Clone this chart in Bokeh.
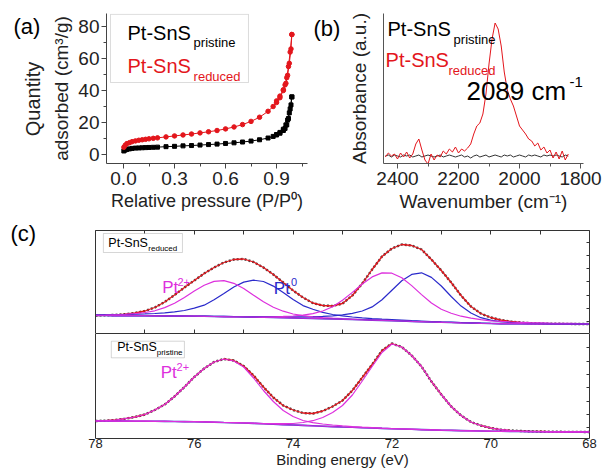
from bokeh.plotting import figure
from bokeh.layouts import column, row
from bokeh.models import Range1d, LinearAxis, FixedTicker, Label, BoxAnnotation, PrintfTickFormatter
from bokeh.embed import file_html
from bokeh.resources import INLINE

FONT = "Liberation Sans"

# ---------------- (a) N2 isotherms ----------------
p_rel_ads = [0.002, 0.01, 0.02, 0.035, 0.05, 0.07, 0.09, 0.11, 0.13, 0.15, 0.175, 0.2, 0.25, 0.3,
             0.35, 0.4, 0.45, 0.5, 0.55, 0.6, 0.65, 0.7, 0.75, 0.8, 0.85, 0.88, 0.9, 0.92, 0.94,
             0.95, 0.96, 0.97, 0.98, 0.99]
q_reduced_ads = [4.5, 5.8, 6.8, 7.4, 8.0, 8.5, 8.9, 9.2, 9.5, 9.8, 10.1, 10.4, 11.0, 11.6,
                 12.2, 12.8, 13.5, 14.2, 15.0, 16.0, 17.2, 18.7, 20.7, 23.3, 27.0, 30.0, 32.5, 35.5, 40.0,
                 43.5, 48.0, 55.0, 64.0, 75.0]
q_pristine_ads = [2.2, 2.8, 3.2, 3.5, 3.8, 4.0, 4.1, 4.2, 4.3, 4.4, 4.5, 4.6, 4.9, 5.1,
                  5.4, 5.6, 5.9, 6.2, 6.5, 6.9, 7.3, 7.8, 8.4, 9.2, 10.3, 11.3, 12.2, 13.3, 15.0,
                  16.3, 18.5, 22.5, 28.5, 36.0]
p_rel_des = [0.99, 0.985, 0.975, 0.965, 0.955, 0.94, 0.92, 0.9]
q_reduced_des = [75.0, 66.0, 57.0, 49.5, 44.5, 40.5, 36.5, 33.5]
q_pristine_des = [36.0, 31.0, 26.0, 21.5, 18.5, 15.8, 13.8, 12.5]

# ---------------- (b) CO-DRIFTS ----------------
wavenumber = [2440, 2430, 2420, 2410, 2400, 2390, 2380, 2370, 2360, 2350,
              2340, 2330, 2320, 2310, 2300, 2290, 2280, 2270, 2260, 2250,
              2240, 2230, 2220, 2210, 2200, 2190, 2180, 2170, 2160, 2150,
              2140, 2130, 2120, 2110, 2100, 2090, 2080, 2070, 2060, 2050,
              2040, 2030, 2020, 2010, 2000, 1990, 1980, 1970, 1960, 1950,
              1940, 1930, 1920, 1910, 1900, 1890, 1880, 1870, 1860, 1850, 1840]
abs_reduced = [-0.01, 0.03, 0.00, 0.02, -0.03, 0.03, -0.01, 0.04, -0.02, 0.02,
               0.12, 0.17, 0.06, -0.04, -0.08, 0.02, -0.04, 0.01, -0.01, 0.05,
               0.02, 0.07, 0.04, 0.09, 0.03, 0.07, 0.05, 0.08, 0.12, 0.22,
               0.30, 0.33, 0.42, 0.62, 0.92, 1.17, 1.33, 1.27, 1.10, 0.84,
               0.66, 0.57, 0.50, 0.40, 0.30, 0.26, 0.22, 0.17, 0.15, 0.10,
               0.13, 0.06, 0.09, 0.03, 0.06, -0.02, 0.04, -0.03, 0.05, -0.04, 0.02]
abs_pristine = [0.00, 0.01, -0.01, 0.01, 0.00, -0.01, 0.01, 0.00, 0.01, -0.01,
                0.00, 0.01, -0.01, 0.00, 0.01, 0.00, -0.01, 0.00, 0.01, -0.01,
                0.00, 0.01, 0.00, -0.01, 0.00, 0.01, -0.01, 0.00, -0.02, 0.00,
                0.01, -0.01, 0.00, 0.01, -0.01, 0.00, 0.01, 0.00, -0.01, 0.01,
                0.00, 0.01, -0.01, 0.00, 0.01, 0.00, -0.01, 0.01, 0.00, 0.01,
                0.00, -0.01, 0.01, 0.00, 0.01, 0.00, 0.01, 0.00, -0.01, 0.01, 0.00]

# ---------------- (c) Pt 4f XPS ----------------
binding_energy = [78.0, 77.8, 77.6, 77.4, 77.2, 77.0, 76.8, 76.6, 76.4, 76.2, 76.0,
                  75.8, 75.6, 75.4, 75.2, 75.0, 74.8, 74.6, 74.4, 74.2, 74.0,
                  73.8, 73.6, 73.4, 73.2, 73.0, 72.8, 72.6, 72.4, 72.2, 72.0,
                  71.8, 71.6, 71.4, 71.2, 71.0, 70.8, 70.6, 70.4, 70.2, 70.0,
                  69.8, 69.6, 69.4, 69.2, 69.0, 68.8, 68.6, 68.4, 68.2, 68.0]
# reduced sample
red_fit = [18.0, 18.2, 18.6, 19.3, 20.5, 22.5, 26.0, 31.5, 38.5, 46.0, 53.0,
           60.0, 66.0, 71.0, 74.0, 74.5, 71.5, 66.0, 59.0, 51.0, 43.0,
           36.0, 30.5, 28.0, 27.5, 30.0, 38.0, 50.0, 64.0, 77.0, 85.0,
           89.0, 88.0, 84.0, 74.0, 63.0, 51.0, 38.0, 27.0, 20.0, 16.0,
           13.5, 12.0, 11.0, 10.4, 10.0, 9.8, 9.7, 9.6, 9.5, 9.5]
red_bg = [18.0, 18.0, 17.9, 17.9, 17.9, 17.8, 17.7, 17.6, 17.5, 17.4, 17.3,
          17.2, 17.0, 16.9, 16.7, 16.6, 16.4, 16.2, 16.0, 15.8, 15.6,
          15.3, 15.1, 14.8, 14.6, 14.3, 14.0, 13.7, 13.4, 13.1, 12.8,
          12.5, 12.1, 11.8, 11.5, 11.2, 11.0, 10.7, 10.5, 10.2, 10.0,
          9.9, 9.8, 9.8, 9.7, 9.7, 9.6, 9.6, 9.6, 9.5, 9.5]
red_pt2_a = [18.5, 18.6, 18.9, 19.2, 19.9, 21.0, 22.7, 25.9, 30.3, 36.1, 42.5,
             48.3, 52.1, 52.8, 50.2, 45.0, 38.3, 31.8, 26.2, 22.3, 19.5,
             17.9, 16.7, 15.9, 15.3, 14.8, 14.4, 14.0, 13.7, 13.3, 13.0,
             12.6, 12.2, 11.9, 11.6, 11.3, 11.0, 10.7, 10.5, 10.2, 10.0,
             9.9, 9.8, 9.8, 9.7, 9.7, 9.6, 9.6, 9.6, 9.5, 9.5]
red_pt0_a = [18.7, 18.8, 18.9, 19.0, 19.3, 19.6, 20.0, 20.6, 21.6, 23.0, 25.4,
             28.3, 33.7, 40.0, 46.5, 51.4, 53.3, 52.0, 47.4, 40.9, 34.1,
             27.9, 24.2, 21.1, 19.0, 17.6, 16.5, 15.6, 14.9, 14.3, 13.8,
             13.3, 12.8, 12.4, 12.0, 11.6, 11.3, 11.0, 10.7, 10.4, 10.1,
             9.9, 9.8, 9.8, 9.7, 9.7, 9.6, 9.6, 9.6, 9.5, 9.5]
red_pt2_b = [18.0, 18.0, 17.9, 17.9, 17.9, 17.8, 17.7, 17.6, 17.5, 17.4, 17.3,
             17.2, 17.0, 16.9, 16.7, 17.0, 16.9, 16.9, 16.9, 17.1, 17.5,
             18.3, 19.9, 22.5, 26.8, 33.3, 41.1, 49.5, 56.6, 60.6, 60.3,
             55.7, 47.9, 38.9, 30.5, 24.2, 20.3, 17.3, 15.3, 13.8, 12.7,
             12.1, 11.5, 11.2, 10.8, 10.7, 10.4, 10.2, 10.1, 9.9, 9.9]
red_pt0_b = [18.0, 18.0, 17.9, 17.9, 17.9, 17.8, 17.7, 17.6, 17.5, 17.4, 17.4,
             17.3, 17.2, 17.1, 17.0, 16.9, 16.8, 16.8, 16.7, 16.7, 16.7,
             16.7, 16.9, 17.2, 17.7, 18.6, 20.1, 22.5, 26.6, 33.7, 43.2,
             52.7, 59.1, 60.7, 56.1, 47.5, 37.0, 27.4, 20.5, 15.8, 13.4,
             11.9, 11.1, 10.7, 10.3, 10.1, 9.9, 9.8, 9.7, 9.6, 9.6]
# pristine sample
pri_fit = [17.5, 17.8, 18.5, 19.8, 21.5, 24.0, 28.5, 34.0, 42.0, 51.5, 61.5,
           70.0, 76.5, 79.5, 78.0, 72.5, 63.0, 51.5, 41.0, 33.0, 28.5,
           25.5, 25.0, 27.5, 32.0, 38.0, 48.0, 61.0, 74.0, 88.0, 95.0,
           91.5, 83.0, 72.0, 57.0, 44.0, 32.0, 23.0, 16.5, 13.0, 10.5,
           8.8, 8.0, 7.5, 7.2, 7.0, 6.8, 6.7, 6.6, 6.6, 6.5]
pri_bg = [17.5, 17.5, 17.4, 17.4, 17.3, 17.3, 17.2, 17.1, 17.0, 16.9, 16.8,
          16.6, 16.3, 16.0, 15.8, 15.5, 15.1, 14.7, 14.3, 13.9, 13.5,
          13.1, 12.7, 12.3, 11.9, 11.5, 11.2, 10.8, 10.5, 10.1, 9.8,
          9.5, 9.2, 8.9, 8.6, 8.3, 8.1, 7.9, 7.7, 7.5, 7.3,
          7.2, 7.1, 7.0, 6.9, 6.8, 6.7, 6.7, 6.6, 6.6, 6.5]
pri_pt2_a = [17.5, 17.8, 18.5, 19.8, 21.5, 24.0, 28.5, 34.0, 42.0, 51.5, 61.5,
             70.0, 76.5, 79.5, 77.5, 71.5, 60.5, 48.0, 37.0, 28.0, 22.0,
             18.0, 15.8, 14.5, 13.5, 12.6, 11.9, 11.3, 10.8, 10.3, 9.9,
             9.6, 9.3, 8.9, 8.6, 8.3, 8.1, 7.9, 7.7, 7.5, 7.3,
             7.2, 7.1, 7.0, 6.9, 6.8, 6.7, 6.7, 6.6, 6.6, 6.5]
pri_pt2_b = [17.5, 17.5, 17.4, 17.4, 17.3, 17.3, 17.2, 17.1, 17.0, 16.9, 16.8,
             16.6, 16.3, 16.0, 15.8, 15.6, 15.3, 15.0, 14.8, 14.8, 15.0,
             16.0, 17.8, 21.0, 26.0, 33.0, 43.5, 57.5, 72.0, 86.0, 94.5,
             91.5, 83.0, 72.0, 57.0, 44.0, 32.0, 23.0, 16.5, 13.0, 10.5,
             8.8, 8.0, 7.5, 7.2, 7.0, 6.8, 6.7, 6.6, 6.6, 6.5]

BE_MAJOR = [78, 76, 74, 72, 70, 68]
BE_ALL = [78, 77, 76, 75, 74, 73, 72, 71, 70, 69, 68]

RED = "#E3161C"
MAG = "#DD2FDD"
BLUE = "#2A2ACB"
AX = "#333333"


def lab(p, x, y, text, size, color="black", align="left"):
    p.add_layout(Label(x=x, y=y, text=text, text_font=FONT, text_font_size=f"{size}px",
                       text_color=color, text_align=align, text_baseline="middle"))


def style_axis(ax, size="18px", color="#444444"):
    ax.axis_line_color = color
    ax.major_tick_line_color = color
    ax.minor_tick_line_color = color
    ax.major_label_text_font = FONT
    ax.major_label_text_font_size = size
    ax.major_label_text_color = "#222222"
    ax.axis_label_text_font = FONT
    ax.axis_label_text_font_style = "normal"
    ax.axis_label_text_color = "#222222"


def tick_only(ax, ticks, length):
    # ticks drawn as minor ticks only, so that no tick labels are produced
    ax.ticker = FixedTicker(ticks=[], minor_ticks=ticks)
    ax.major_tick_in = ax.major_tick_out = 0
    ax.minor_tick_in, ax.minor_tick_out = length, 0
    ax.major_label_standoff = 0


def text_fig(width, height):
    f = figure(width=width, height=height, x_range=Range1d(0, width), y_range=Range1d(0, height),
               output_backend="svg", toolbar_location=None, x_axis_location=None, y_axis_location=None,
               min_border=0, title=None)
    f.outline_line_color = None
    f.grid.visible = False
    return f


# ================= panel (a) =================
ta_top = text_fig(48, 48)
lab(ta_top, 13, 22, "(a)", 22)

# narrow strip whose only content is the outer y-axis title line "Quantity"
ta_bot = figure(width=48, height=167, x_range=Range1d(0, 1), y_range=Range1d(0, 1),
                output_backend="svg", toolbar_location=None, x_axis_location=None, title=None,
                min_border_left=47, min_border_right=0, min_border_top=0, min_border_bottom=66)
ta_bot.outline_line_color = None
ta_bot.grid.visible = False
yq = ta_bot.yaxis[0]
style_axis(yq, "19px")
yq.axis_line_color = None
yq.ticker = FixedTicker(ticks=[])
yq.major_tick_in = yq.major_tick_out = yq.minor_tick_in = yq.minor_tick_out = 0
yq.major_label_standoff = 0
yq.axis_label = "Quantity"
yq.axis_label_text_font_size = "20px"
yq.axis_label_standoff = 4

pa = figure(width=260, height=215, x_range=Range1d(-0.1, 1.082), y_range=Range1d(-5.625, 88.125),
            output_backend="svg", toolbar_location=None, title=None,
            min_border_left=58, min_border_right=1, min_border_top=13, min_border_bottom=52)
pa.outline_line_color = None
pa.grid.visible = False
xa = pa.xaxis[0]
ya = pa.yaxis[0]
style_axis(xa, "19px")
style_axis(ya, "19px")
xa.ticker = FixedTicker(ticks=[0, 0.3, 0.6, 0.9], minor_ticks=[0.15, 0.45, 0.75, 1.05])
xa.formatter = PrintfTickFormatter(format="%.1f")
xa.major_tick_out, xa.major_tick_in, xa.minor_tick_out, xa.minor_tick_in = 5, 0, 3, 0
xa.major_label_standoff = 3
xa.axis_label = "Relative pressure (P/P⁰)"
xa.axis_label_text_font_size = "18px"
xa.axis_label_standoff = 3
ya.ticker = FixedTicker(ticks=[0, 20, 40, 60, 80], minor_ticks=[10, 30, 50, 70])
ya.major_tick_out, ya.major_tick_in, ya.minor_tick_out, ya.minor_tick_in = 5, 0, 3, 0
ya.major_label_standoff = 2
ya.axis_label = "adsorbed (cm³/g)"
ya.axis_label_text_font_size = "19px"
ya.axis_label_standoff = 3

pa.line(p_rel_ads, q_pristine_ads, color="black", line_width=1)
pa.line(p_rel_des, q_pristine_des, color="black", line_width=1)
pa.scatter(p_rel_ads, q_pristine_ads, marker="square", size=4, color="black")
pa.scatter(p_rel_des, q_pristine_des, marker="square", size=4, color="black")
pa.line(p_rel_ads, q_reduced_ads, color=RED, line_width=1)
pa.line(p_rel_des, q_reduced_des, color=RED, line_width=1)
pa.scatter(p_rel_ads, q_reduced_ads, marker="circle", size=4.5, color=RED)
pa.scatter(p_rel_des, q_reduced_des, marker="circle", size=4.5, color=RED)

pa.add_layout(BoxAnnotation(left=-0.0765, right=0.735, top=87.6, bottom=45,
                            fill_alpha=0, line_color="#8a8a8a", line_width=1))
lab(pa, 0.0235, 76.2, "Pt-SnS", 20)
lab(pa, 0.412, 70.0, "pristine", 13)
lab(pa, 0.0235, 55.6, "Pt-SnS", 20, RED)
lab(pa, 0.412, 48.8, "reduced", 13, RED)

# ================= panel (b) =================
tb = text_fig(37, 215)
lab(tb, 5, 187, "(b)", 22)

pb = figure(width=264, height=215, x_range=Range1d(2445.9, 1790.2), y_range=Range1d(-0.075, 1.425),
            output_backend="svg", toolbar_location=None, title=None,
            min_border_left=38, min_border_right=26, min_border_top=13, min_border_bottom=52)
pb.outline_line_color = None
pb.grid.visible = False
xb = pb.xaxis[0]
yb = pb.yaxis[0]
style_axis(xb, "19px", "#555555")
style_axis(yb, "19px", "#555555")
xb.ticker = FixedTicker(ticks=[2400, 2200, 2000, 1800], minor_ticks=[2300, 2100, 1900])
xb.major_tick_out, xb.major_tick_in, xb.minor_tick_out, xb.minor_tick_in = 5, 0, 3, 0
xb.major_label_standoff = 3
xb.axis_label = "Wavenumber (cm⁻¹)"
xb.axis_label_text_font_size = "19px"
xb.axis_label_standoff = 3
yb.ticker = FixedTicker(ticks=[])
yb.major_tick_out = yb.major_tick_in = yb.minor_tick_out = yb.minor_tick_in = 0
yb.major_label_standoff = 0
yb.axis_label = "Absorbance (a.u.)"
yb.axis_label_text_font_size = "19px"
yb.axis_label_standoff = 14

pb.line(wavenumber, abs_pristine, color="#333333", line_width=1)
pb.line(wavenumber, abs_reduced, color=RED, line_width=1)

lab(pb, 2432.8, 1.275, "Pt-SnS", 20)
lab(pb, 2216, 1.17, "pristine", 13)
lab(pb, 2439, 0.965, "Pt-SnS", 20, RED)
lab(pb, 2233, 0.86, "reduced", 13, RED)
lab(pb, 2174, 0.655, "2089 cm", 26)
lab(pb, 1836, 0.74, "-1", 15)


# ================= panel (c) =================
def xps_figure(width, height, left, top, bottom, ymax):
    p = figure(width=width, height=height, x_range=Range1d(78, 68), y_range=Range1d(0, ymax),
               output_backend="svg", toolbar_location=None, title=None,
               min_border_left=left, min_border_right=20, min_border_top=top, min_border_bottom=bottom,
               y_axis_location="right")
    p.grid.visible = False
    return p


tc = text_fig(95, 118)
lab(tc, 10, 100, "(c)", 22)

ct = xps_figure(514, 118, 0, 15, 0, 103)
cb = xps_figure(609, 141, 95, 0, 36, 105)

# top panel: frame lines come from axes (no doubled divider)
ct.outline_line_color = None
xt = ct.xaxis[0]
style_axis(xt, "13px", AX)
xt.axis_line_color = None
tick_only(xt, BE_ALL, 4)
xt_above = LinearAxis()
style_axis(xt_above, "13px", AX)
tick_only(xt_above, BE_ALL, 4)
ct.add_layout(xt_above, "above")
yt = ct.yaxis[0]
style_axis(yt, "13px", AX)
tick_only(yt, [12, 25, 38.5, 52, 65, 78, 91.5], 3)
yt_left = LinearAxis()
style_axis(yt_left, "13px", AX)
tick_only(yt_left, [], 0)
ct.add_layout(yt_left, "left")

# bottom panel
cb.outline_line_color = AX
xbb = cb.xaxis[0]
style_axis(xbb, "13px", AX)
xbb.axis_line_color = None
xbb.ticker = FixedTicker(ticks=BE_MAJOR, minor_ticks=[])
xbb.major_tick_in = xbb.major_tick_out = xbb.minor_tick_in = xbb.minor_tick_out = 0
xbb.major_label_standoff = 0
xbb.axis_label = "Binding energy (eV)"
xbb.axis_label_text_font_size = "15px"
xbb.axis_label_standoff = 0
ybb = cb.yaxis[0]
style_axis(ybb, "13px", AX)
ybb.axis_line_color = None
tick_only(ybb, [10.7, 24, 37.3, 50.7, 64, 77.3, 90.7], 3)

# top (reduced) curves
ct.line(binding_energy, red_fit, color="#111111", line_width=2.4, line_dash="2 2", alpha=0.8)
ct.line(binding_energy, red_fit, color=RED, line_width=1.3)
ct.line(binding_energy, red_pt0_a, color=BLUE, line_width=1.2)
ct.line(binding_energy, red_pt0_b, color=BLUE, line_width=1.2)
ct.line(binding_energy, red_pt2_a, color=MAG, line_width=1.2)
ct.line(binding_energy, red_pt2_b, color=MAG, line_width=1.2)
ct.line(binding_energy, red_bg, color=BLUE, line_width=1.6)
ct.line(binding_energy, red_bg, color=MAG, line_width=1.2, alpha=0.85)

# bottom (pristine) curves
cb.line(binding_energy, pri_fit, color="#111111", line_width=2.4, line_dash="2 2", alpha=0.8)
cb.line(binding_energy, pri_fit, color=RED, line_width=1.3)
cb.line(binding_energy, pri_bg, color=BLUE, line_width=1.6)
cb.line(binding_energy, pri_bg, color=MAG, line_width=1.2, alpha=0.85)
cb.line(binding_energy, pri_pt2_a, color=MAG, line_width=1.2)
cb.line(binding_energy, pri_pt2_b, color=MAG, line_width=1.2)

# labels panel c
ct.add_layout(BoxAnnotation(left=77.84, right=76.24, top=100, bottom=81,
                            fill_color="white", fill_alpha=1, line_color="#777777", line_width=1))
lab(ct, 77.74, 90.5, "Pt-SnS", 12.5)
lab(ct, 76.93, 84.8, "reduced", 8)
lab(ct, 76.65, 46.3, "Pt", 17, MAG)
lab(ct, 76.34, 52.0, "2+", 11, MAG)
lab(ct, 74.39, 44.7, "Pt", 17, BLUE)
lab(ct, 74.04, 51.3, "0", 11, BLUE)

cb.add_layout(BoxAnnotation(left=77.68, right=76.20, top=97.3, bottom=80.7,
                            fill_color="white", fill_alpha=1, line_color="#777777", line_width=1))
lab(cb, 77.56, 92.0, "Pt-SnS", 12.5)
lab(cb, 76.76, 85.6, "pristine", 8)
lab(cb, 76.68, 66.3, "Pt", 17, MAG)
lab(cb, 76.36, 71.5, "2+", 11, MAG)

# the text-only strips are wrapped in their own columns so that their frames
# are not aligned with the neighbouring plots' frames
layout = column(row(column(column(ta_top), ta_bot), pa, column(tb), pb), row(column(tc), ct), cb)
open("out.html", "w").write(file_html(layout, INLINE))
